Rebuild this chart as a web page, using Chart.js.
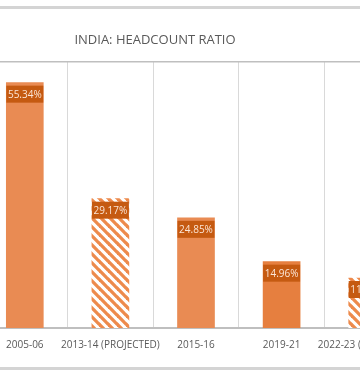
<!DOCTYPE html>
<html>
<head>
<meta charset="utf-8">
<script src="https://cdn.jsdelivr.net/npm/chart.js@4.4.1/dist/chart.umd.min.js"></script>
<style>
  html, body { margin: 0; padding: 0; background: #fff; }
  #wrap { position: relative; width: 360px; height: 376px; overflow: hidden; }
  #box { position: absolute; left: -18px; top: 0; width: 428px; height: 376px; }
</style>
</head>
<body>
<div id="wrap"><div id="box"><canvas id="myChart"></canvas></div></div>
<script>
// data
const years = ['2005-06', '2013-14 (PROJECTED)', '2015-16', '2019-21', '2022-23 (PROJECTED)'];
const ratio = [55.34, 29.17, 24.85, 14.96, 11.28];
const projected = [false, true, false, false, true];
const chartTitle = 'INDIA: HEADCOUNT RATIO';

// hatched fill for projected bars
function hatch() {
  const s = 9;
  const c = document.createElement('canvas');
  c.width = s; c.height = s;
  const g = c.getContext('2d');
  g.fillStyle = '#fff';
  g.fillRect(0, 0, s, s);
  g.strokeStyle = '#ED8A4C';
  g.lineWidth = 3.3;
  for (let k = -1; k <= 1; k++) {
    g.beginPath();
    g.moveTo(k * s - 1, -1);
    g.lineTo(k * s + s + 1, s + 1);
    g.stroke();
  }
  return g.createPattern(c, 'repeat');
}
const pat = hatch();
const solid = ['#E98B53', null, '#E98B53', '#E67F3F', null];
const fills = ratio.map((v, i) => projected[i] ? pat : solid[i]);

// frame, title and value boxes
const extras = {
  id: 'extras',
  afterDraw(chart) {
    const ctx = chart.ctx;
    const a = chart.chartArea;
    ctx.save();
    // outer grey bands
    ctx.fillStyle = '#d4d4d4';
    ctx.fillRect(0, 6, chart.width, 3);
    ctx.fillRect(0, 367, chart.width, 3);
    // top line of plot
    ctx.fillStyle = '#bfbfbf';
    ctx.fillRect(0, a.top - 1, chart.width, 1.5);
    // title
    ctx.fillStyle = '#595959';
    ctx.font = '13px "Open Sans"';
    ctx.textAlign = 'center';
    ctx.textBaseline = 'middle';
    ctx.fillText(chartTitle, 173, 40);
    // value boxes
    const meta = chart.getDatasetMeta(0);
    ctx.font = '10px "Open Sans"';
    meta.data.forEach((bar, i) => {
      const w = bar.width;
      const x0 = bar.x - w / 2;
      const y0 = bar.y + 3;
      ctx.fillStyle = '#C55A11';
      ctx.fillRect(x0, y0, w, 17);
      ctx.fillStyle = '#FBE5D6';
      ctx.fillText(ratio[i].toFixed(2) + '%', bar.x, y0 + 9);
    });
    ctx.restore();
  }
};

new Chart(document.getElementById('myChart'), {
  type: 'bar',
  data: {
    labels: years,
    datasets: [{
      data: ratio,
      backgroundColor: fills,
      borderWidth: 0,
      barThickness: 37,
      categoryPercentage: 1
    }]
  },
  options: {
    responsive: true,
    maintainAspectRatio: false,
    animation: false,
    layout: { padding: { top: 62, left: 0, right: 0, bottom: 0 } },
    plugins: { legend: { display: false }, tooltip: { enabled: false } },
    scales: {
      x: {
        grid: { offset: true, color: '#d9d9d9', lineWidth: 1, drawTicks: false },
        border: { color: '#bfbfbf', width: 2 },
        ticks: {
          color: '#595959',
          font: { family: 'Open Sans', size: 10 },
          padding: 11,
          maxRotation: 0,
          autoSkip: false
        },
        afterFit(scale) {
          scale.height = 48;
          scale.paddingLeft = 0;
          scale.paddingRight = 0;
        }
      },
      y: {
        display: false,
        min: 0,
        max: 60
      }
    }
  },
  plugins: [extras]
});
</script>
</body>
</html>
